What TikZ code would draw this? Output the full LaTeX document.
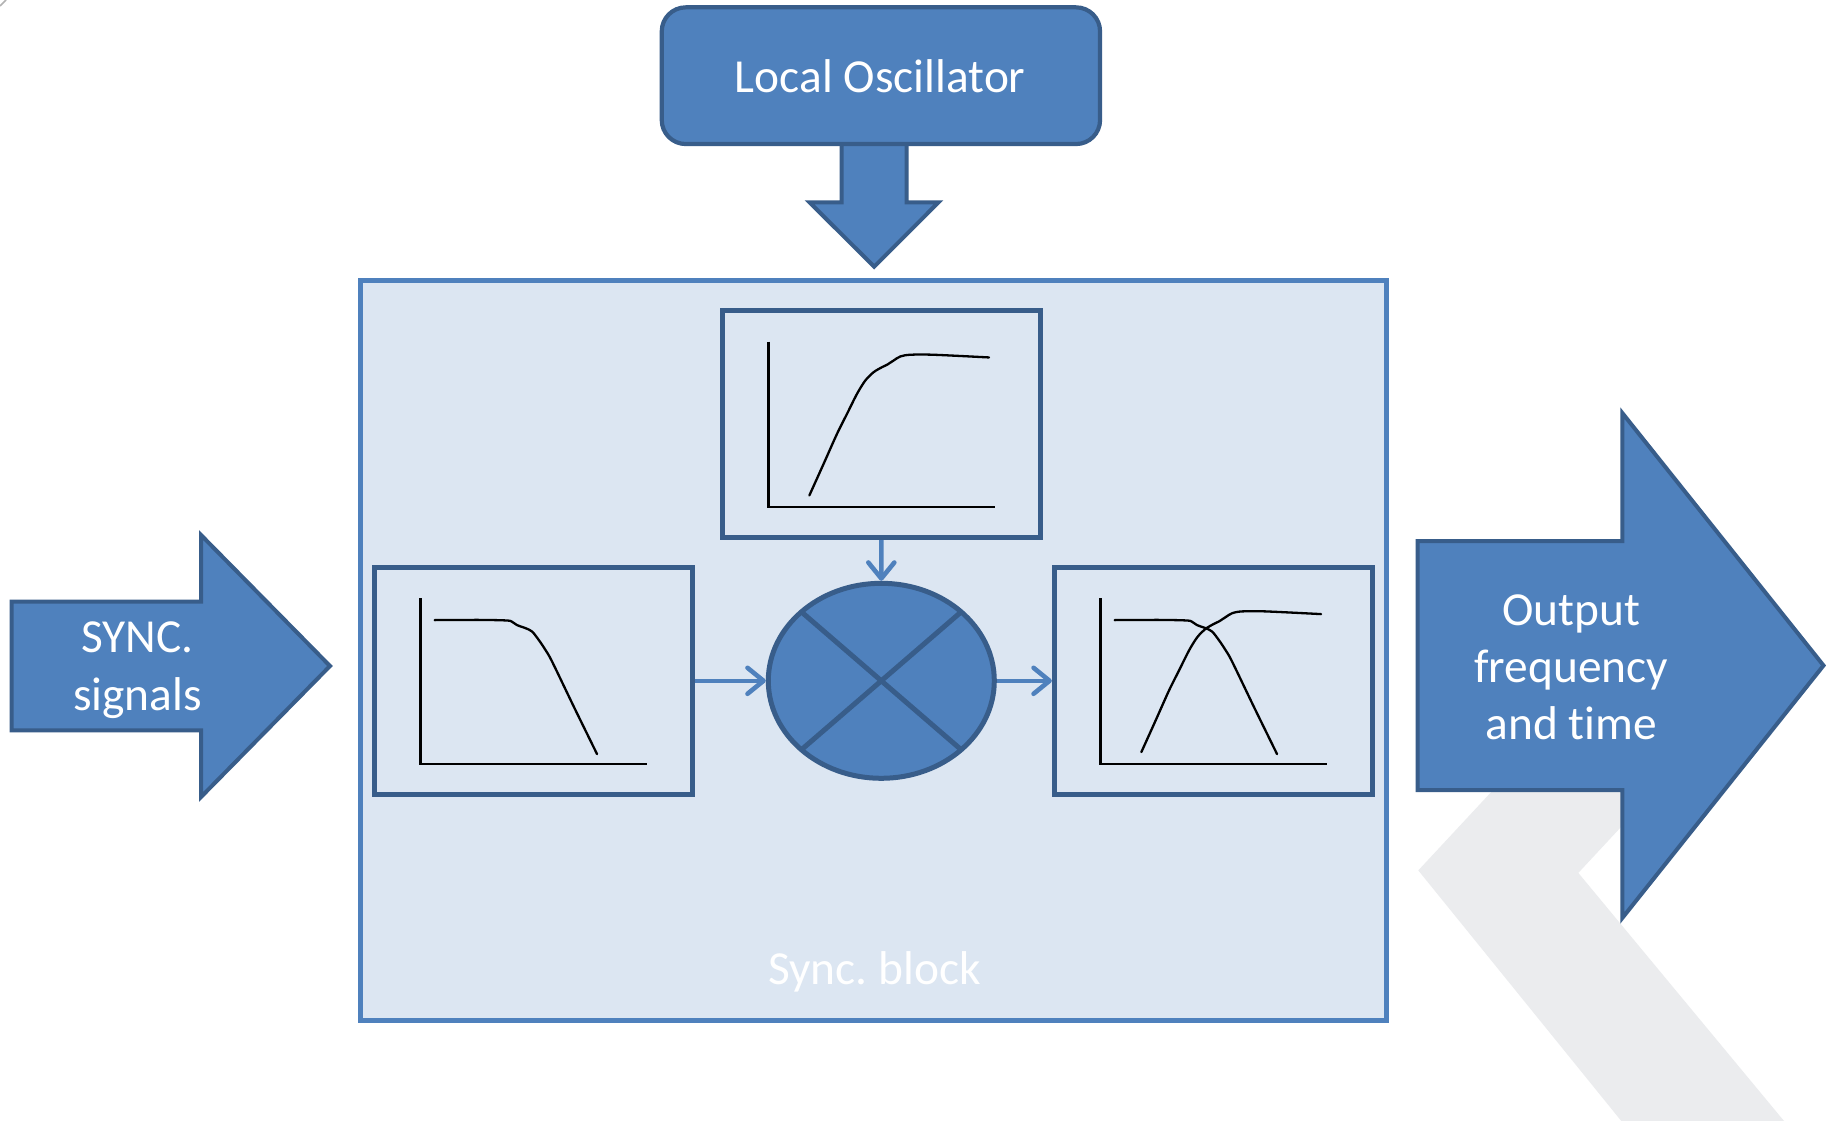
\documentclass[tikz,border=0pt]{standalone}
\usepackage{fontspec}
\setmainfont{Carlito}[Ligatures=NoCommon]
\frenchspacing
\usetikzlibrary{arrows.meta,shapes.geometric}
\definecolor{mainblue}{HTML}{4F81BD}
\definecolor{darkblue}{HTML}{385D8A}
\definecolor{lightfill}{HTML}{DCE6F2}
\definecolor{chevgray}{HTML}{EBECEE}
\newcommand\axesplot{\draw[axisline] (0,-165.5) -- (0,0) -- (226.5,0);}
\newcommand\riseplot{\draw[curveline] plot[smooth, tension=0.5] coordinates {(41,-11.7) (55.3,-43.4) (68.7,-73.4) (78.7,-93.4) (88.7,-113.4) (97,-126.7) (105.3,-135) (113.7,-140) (118.7,-142.4) (125.3,-146.7) (132,-150.7) (142,-152.4) (165.3,-152.4) (220.7,-149.7)};}
\newcommand\fallplot{\draw[curveline] plot[smooth, tension=0.5] coordinates {(14.3,-143.7) (60,-143.9) (86.7,-143.3) (91.7,-142) (96.7,-138.7) (105,-135.7) (111.7,-132.3) (118.3,-124) (125,-114) (131.7,-102.3) (154,-56) (176.7,-9.7)};}
\begin{document}
\begin{tikzpicture}[x=1pt,y=-1pt,
  lbl/.style={text=white, font=\fontsize{47.4}{57.3}\selectfont, inner sep=0pt, anchor=base},
  graphbox/.style={draw=darkblue, line width=4.8pt, fill=lightfill, minimum width=318pt, minimum height=227pt, inner sep=0pt, outer sep=0pt},
  blockarrow/.style={fill=mainblue, draw=darkblue, line width=4pt, line join=miter},
  curveline/.style={black, line width=2.3pt, line cap=round, line join=round},
  axisline/.style={black, line width=2.5pt},
  conn/.style={draw=mainblue, line width=4.6pt, shorten <=2.4pt, shorten >=2.5pt, -{Straight Barb[length=16pt,width=26pt,round]}}
]
\useasboundingbox (0,0) rectangle (1826,1121);
\fill[white] (0,0) rectangle (1826,1121);
% background chevron
\fill[chevgray] (1502.4,780) -- (1418.3,870.4) -- (1621.3,1121) -- (1784,1121) -- (1578.3,872.9) -- (1664.7,780) -- cycle;
\draw[gray!60, line width=1.5pt] (0,6) -- (6,0);
% sync block
\node[draw=mainblue, fill=lightfill, line width=5pt, minimum width=1026.3pt, minimum height=740pt, inner sep=0pt, outer sep=0pt] (sync) at (873.15,650.7) {};
\node[lbl] (synctext) at (874.4,984) {Sync. block};
% local oscillator and its arrow
\draw[blockarrow] (841.7,140) -- (841.7,202.3) -- (809.5,202.3) -- (874.2,266.7) -- (938.5,202.3) -- (906.7,202.3) -- (906.7,140);
\node[fill=mainblue, draw=darkblue, line width=4.2pt, rounded corners=24pt, minimum width=438.3pt, minimum height=136.7pt, inner sep=0pt] (lo) at (880.9,75.7) {};
\node[lbl] (lotext) at (880.3,92.7) {Local Oscillator};
% input arrow
\draw[blockarrow] (11.7,601.7) -- (201,601.7) -- (201,535) -- (330,666) -- (201,797) -- (201,730.3) -- (11.7,730.3) -- cycle;
\node[lbl] (in1) at (137.5,652.7) {SYNC.};
\node[lbl] (in2) at (137.5,710) {signals};
% output arrow
\draw[blockarrow] (1417.7,541) -- (1622.3,541) -- (1622.3,413) -- (1823.5,665.5) -- (1622.3,918) -- (1622.3,790) -- (1417.7,790) -- cycle;
\node[lbl] (out1) at (1571.3,625) {Output};
\node[lbl] (out2) at (1571.3,682) {frequency};
\node[lbl] (out3) at (1571.3,739) {and time};
% graph boxes
\node[graphbox] (gtop) at (881.35,424.15) {};
\node[graphbox] (gleft) at (533.35,680.8) {};
\node[graphbox] (gright) at (1213.35,680.8) {};
\begin{scope}[shift={(gtop.north west)}]
 \begin{scope}[shift={(46,196.5)}]\axesplot\riseplot\end{scope}
\end{scope}
\begin{scope}[shift={(gleft.north west)}]
 \begin{scope}[shift={(46,196.5)}]\axesplot\fallplot\end{scope}
\end{scope}
\begin{scope}[shift={(gright.north west)}]
 \begin{scope}[shift={(46,196.5)}]\axesplot\riseplot\fallplot\end{scope}
\end{scope}
% mixer
\node[ellipse, draw=darkblue, fill=mainblue, line width=5pt, minimum width=226pt, minimum height=195pt, inner sep=0pt, outer sep=0pt] (mix) at (881.3,680.8) {};
\draw[darkblue, line width=5pt] (mix.north west) -- (mix.south east);
\draw[darkblue, line width=5pt] (mix.north east) -- (mix.south west);
% connectors
\draw[conn] (gtop.south) -- (mix.north);
\draw[conn] (gleft.east) -- (mix.west);
\draw[conn] (mix.east) -- (gright.west);
\end{tikzpicture}
\end{document}
